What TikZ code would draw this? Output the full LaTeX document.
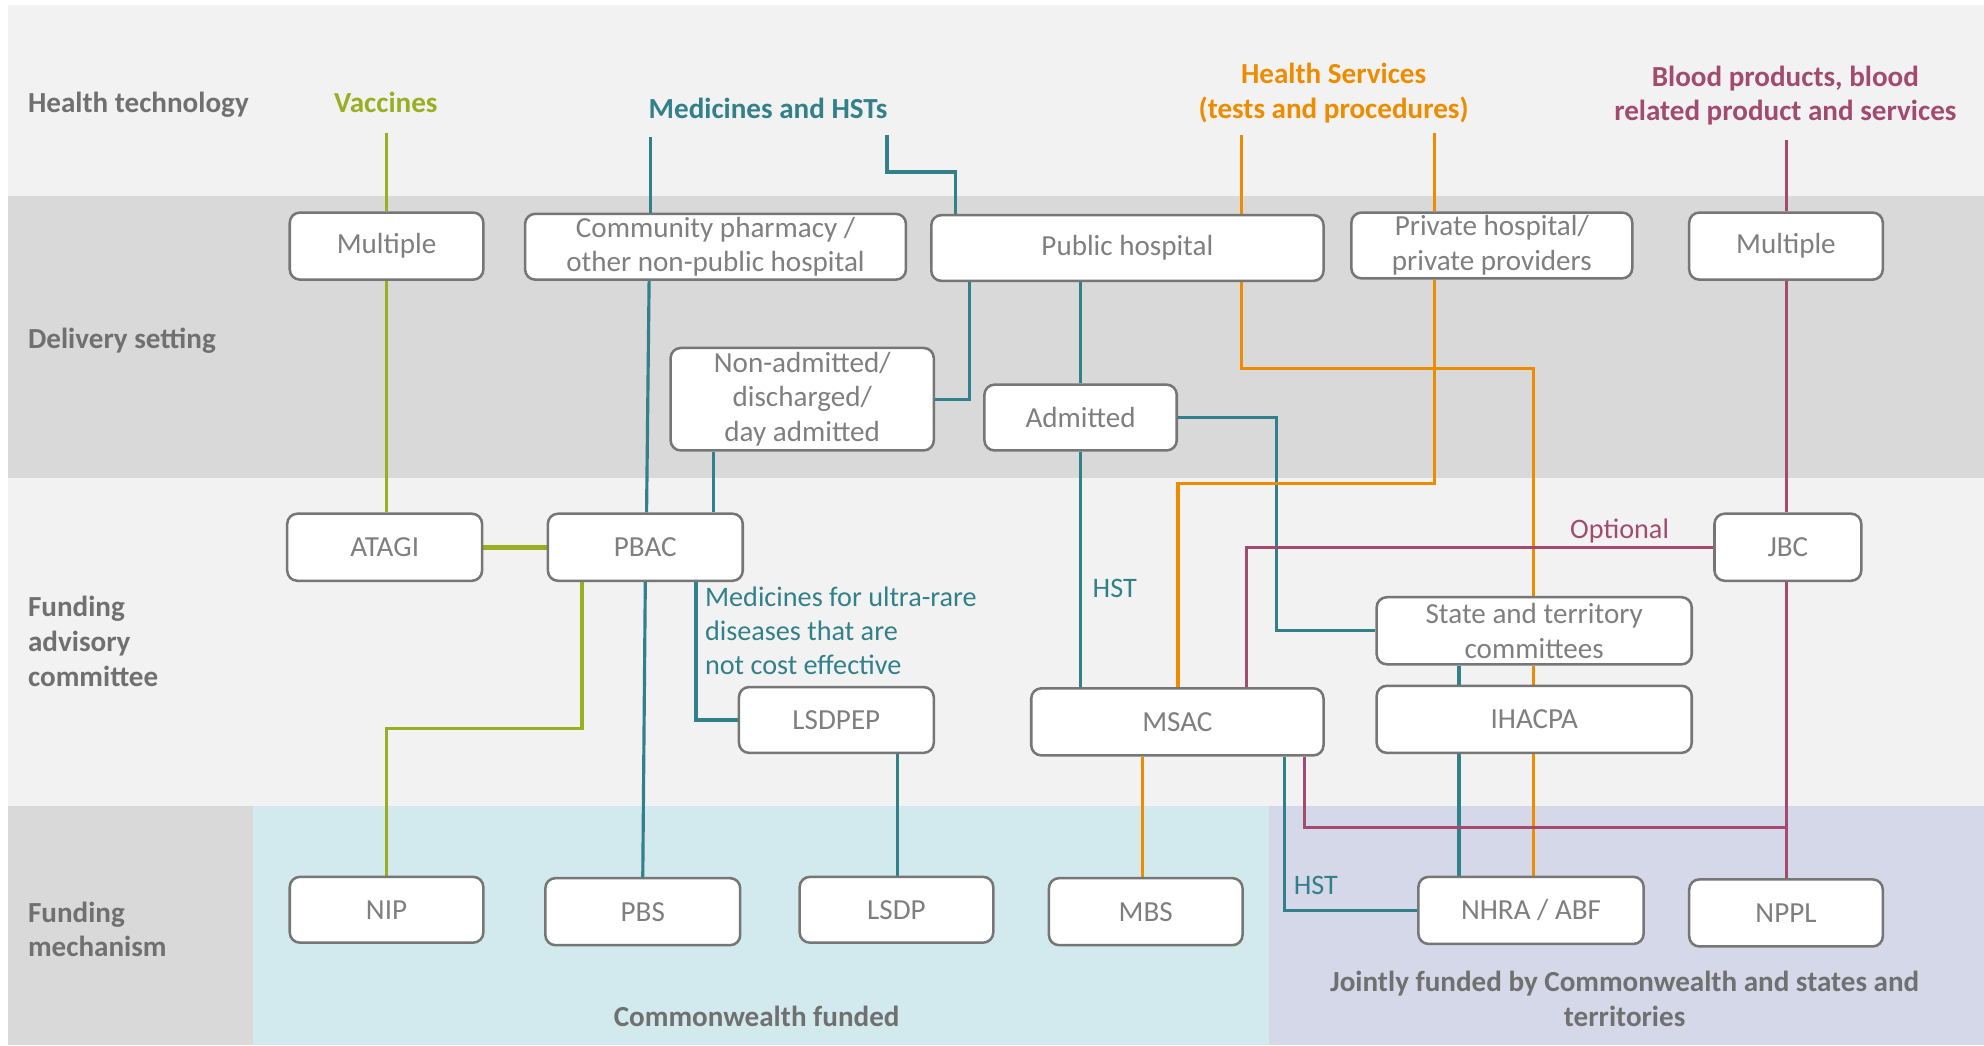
\documentclass[tikz,border=0pt]{standalone}
\usepackage{fontspec}
\setmainfont{Carlito}
\definecolor{bgl}{HTML}{F2F2F2}
\definecolor{bgd}{HTML}{D9D9D9}
\definecolor{cwf}{HTML}{D2EAEE}
\definecolor{jnt}{HTML}{D5D8E8}
\definecolor{cgreen}{HTML}{9AAE22}
\definecolor{cteal}{HTML}{31808A}
\definecolor{corange}{HTML}{EE8C00}
\definecolor{cplum}{HTML}{A24B6F}
\definecolor{boxline}{HTML}{767676}
\definecolor{boxtext}{HTML}{7F7F7F}
\definecolor{labtext}{HTML}{707070}
\pgfdeclarelayer{back}
\pgfdeclarelayer{lines}
\pgfsetlayers{back,lines,main}
\begin{document}
\begin{tikzpicture}[x=1pt,y=-1pt,
  box/.style={draw=boxline, line width=2pt, rounded corners=8pt, fill=white,
    text=boxtext, align=center, inner sep=0pt,
    font=\fontsize{23}{27.5}\selectfont},
  rowlab/.style={anchor=west, align=left, text=labtext, inner sep=0pt,
    font=\fontsize{23}{27.5}\selectfont\bfseries},
  head/.style={align=center, inner sep=0pt, font=\fontsize{23}{27.5}\selectfont\bfseries},
  note/.style={inner sep=0pt, font=\fontsize{22.3}{26.5}\selectfont},
  conn/.style={line width=2.5pt, line join=miter},
  gline/.style={conn, draw=cgreen},
  tline/.style={conn, draw=cteal},
  oline/.style={conn, draw=corange},
  pline/.style={conn, draw=cplum}]
\useasboundingbox (0,0) rectangle (1568,826);
\begin{pgfonlayer}{back}
\fill[white] (0,0) rectangle (1568,826);
\fill[bgl] (6,4) rectangle (1568,155);
\fill[bgd] (6,155) rectangle (1568,378);
\fill[bgl] (6,378) rectangle (1568,637);
\fill[bgd] (6,637) rectangle (200,826);
\fill[cwf] (200,637) rectangle (1003,826);
\fill[jnt] (1003,637) rectangle (1568,826);
\end{pgfonlayer}

% row labels
\node[rowlab] (rl1) at (22,83) {Health technology};
\node[rowlab] (rl2) at (22,269) {Delivery setting};
\node[rowlab] (rl3) at (22,507) {Funding\\advisory\\committee};
\node[rowlab] (rl4) at (22,734.5) {Funding\\mechanism};

% headers
\node[head, text=cgreen] (vac) at (305,81) {Vaccines};
\node[head, text=cteal] (med) at (607,86) {Medicines and HSTs};
\node[head, text=corange] (hs) at (1054,73.5) {Health Services\\(tests and procedures)};
\node[head, text=cplum] (blood) at (1411,75.5) {Blood products, blood\\related product and services};

% bottom labels
\node[head, text=labtext] (cwl) at (598,803) {Commonwealth funded};
\node[head, text=labtext] (jfl) at (1284,789.5) {Jointly funded by Commonwealth and states and\\territories};

% boxes
\node[box, minimum width=153pt, minimum height=53pt] (m1) at (305.5,194.5) {Multiple};
\node[box, minimum width=301pt, minimum height=52pt] (cp) at (565.5,195) {Community pharmacy /\\other non-public hospital};
\node[box, minimum width=310pt, minimum height=52pt] (ph) at (891,196) {Public hospital};
\node[box, minimum width=222pt, minimum height=52pt] (pp) at (1179,194) {Private hospital/\\private providers};
\node[box, minimum width=153pt, minimum height=53pt] (m2) at (1411.5,194.5) {Multiple};
\node[box, minimum width=208pt, minimum height=81pt] (na) at (634,315.5) {Non-admitted/\\discharged/\\day admitted};
\node[box, minimum width=152pt, minimum height=52pt] (adm) at (854,330) {Admitted};
\node[box, minimum width=154pt, minimum height=53pt] (atagi) at (304,432.5) {ATAGI};
\node[box, minimum width=154pt, minimum height=53pt] (pbac) at (510,432.5) {PBAC};
\node[box, minimum width=116pt, minimum height=53pt] (jbc) at (1413,432.5) {JBC};
\node[box, minimum width=249pt, minimum height=53pt] (stc) at (1212.5,498.5) {State and territory\\committees};
\node[box, minimum width=154pt, minimum height=52pt] (lsdpep) at (661,569) {LSDPEP};
\node[box, minimum width=231pt, minimum height=53pt] (msac) at (930.5,570.5) {MSAC};
\node[box, minimum width=249pt, minimum height=53pt] (ihacpa) at (1212.5,568.5) {IHACPA};
\node[box, minimum width=153pt, minimum height=52pt] (nip) at (305.5,719) {NIP};
\node[box, minimum width=154pt, minimum height=53pt] (pbs) at (508,720.5) {PBS};
\node[box, minimum width=153pt, minimum height=52pt] (lsdp) at (708.5,719) {LSDP};
\node[box, minimum width=153pt, minimum height=53pt] (mbs) at (905.5,720.5) {MBS};
\node[box, minimum width=178pt, minimum height=53pt] (nhra) at (1210,719.5) {NHRA / ABF};
\node[box, minimum width=153pt, minimum height=53pt] (nppl) at (1411.5,721.5) {NPPL};

% connector labels
\node[note, text=cteal, anchor=north west, align=left] (ultra) at (557,464) {Medicines for ultra-rare\\diseases that are\\not cost effective};
\node[note, text=cteal] (hst1) at (881,465) {HST};
\node[note, text=cteal] (hst2) at (1040,700) {HST};
\node[note, text=cplum] (opt) at (1280,420) {Optional};

% helper coordinates
\coordinate (vacE) at (305.5,105);
\coordinate (medE1) at (514,108);
\coordinate (medE2) at (701,107);
\coordinate (hsE1) at (981,107);
\coordinate (hsE2) at (1134,105);
\coordinate (blE) at (1412,111);
\coordinate (gA) at (460,576);
\coordinate (t1) at (513,0);
\coordinate (t2) at (511,0);
\coordinate (t3) at (510,0);
\coordinate (t4) at (508,0);
\coordinate (tB) at (755,136);
\coordinate (tC) at (766,0);
\coordinate (tE) at (564,0);
\coordinate (tF) at (550,0);
\coordinate (tG) at (709,0);
\coordinate (tD) at (1009,498.5);
\coordinate (tH) at (1153,0);
\coordinate (tI) at (1015,0);
\coordinate (oA) at (981,291);
\coordinate (oB) at (1212,291);
\coordinate (oC) at (1134,382);
\coordinate (oD) at (931,382);
\coordinate (oE) at (903,0);
\coordinate (mA) at (985,0);
\coordinate (mB) at (1031,0);
\coordinate (mJ) at (1412,654);

\begin{pgfonlayer}{lines}
% green
\draw[gline] (vacE) -- (m1.north);
\draw[gline] (m1.south) -- (m1.south |- atagi.north);
\draw[gline, line width=4pt] (atagi.east) -- (pbac.west);
\draw[gline] (pbac.south -| gA) -- (gA) -| (nip.north);
% teal
\draw[tline] (medE1) -- (medE1 |- cp.north);
\draw[tline] (cp.south -| t1) -- (pbac.north -| t2);
\draw[tline] (pbac.south -| t3) -- (pbs.north -| t4);
\draw[tline] (medE2) |- (tB) -- (tB |- ph.north);
\draw[tline] (ph.south -| tC) |- (na.east);
\draw[tline] (na.south -| tE) -- (pbac.north -| tE);
\draw[tline] (pbac.south -| tF) |- (lsdpep.west);
\draw[tline] (lsdpep.south -| tG) -- (lsdp.north -| tG);
\draw[tline] (ph.south -| adm.north) -- (adm.north);
\draw[tline] (adm.south) -- (msac.north -| adm.south);
\draw[tline] (adm.east) -| (tD) -- (stc.west);
\draw[tline] (stc.south -| tH) -- (ihacpa.north -| tH);
\draw[tline] (ihacpa.south -| tH) -- (nhra.north -| tH);
\draw[tline] (msac.south -| tI) |- (nhra.west);
% orange
\draw[oline] (hsE1) -- (hsE1 |- ph.north);
\draw[oline] (ph.south -| oA) -- (oA) -- (oB) -- (oB |- stc.north);
\draw[oline] (stc.south -| oB) -- (ihacpa.north -| oB);
\draw[oline] (ihacpa.south -| oB) -- (nhra.north -| oB);
\draw[oline] (hsE2) -- (hsE2 |- pp.north);
\draw[oline] (pp.south -| oC) -- (oC) -- (oD) -- (oD |- msac.north);
\draw[oline] (msac.south -| oE) -- (mbs.north -| oE);
% plum
\draw[pline] (blE) -- (blE |- m2.north);
\draw[pline] (m2.south -| blE) -- (jbc.north -| blE);
\draw[pline] (jbc.south -| blE) -- (nppl.north -| blE);
\draw[pline] (jbc.west) -| (msac.north -| mA);
\draw[pline] (msac.south -| mB) |- (mJ);
\end{pgfonlayer}
\end{tikzpicture}
\end{document}
